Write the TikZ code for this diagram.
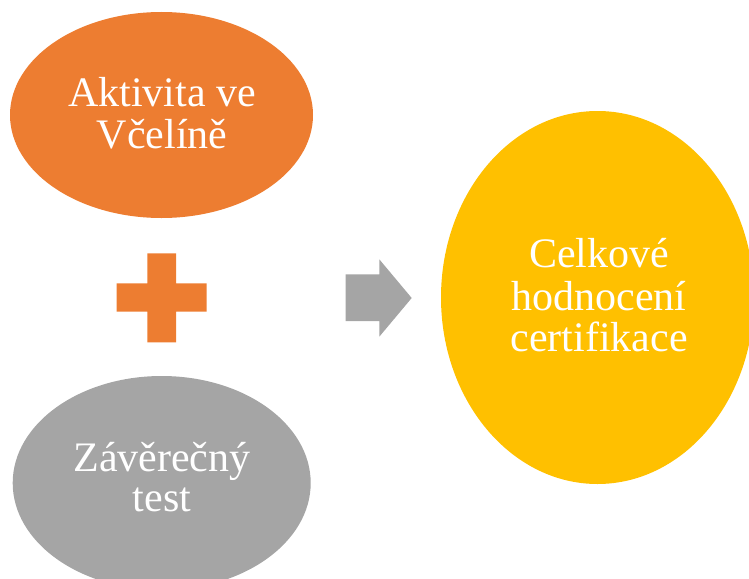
\documentclass[tikz,border=0pt]{standalone}
\usepackage{fontspec}
\setmainfont{Liberation Serif}
\usetikzlibrary{shapes.geometric}
\definecolor{corange}{HTML}{ED7D31}
\definecolor{cgray}{HTML}{A5A5A5}
\definecolor{cyellow}{HTML}{FFC000}
\tikzset{
  blob/.style={ellipse, inner sep=0pt, draw=none},
  label/.style={text=white, anchor=base, inner sep=0pt, font=\fontsize{42}{42}\selectfont}
}
\begin{document}
\begin{tikzpicture}[x=1pt,y=-1pt]
\useasboundingbox (0,0) rectangle (749,578);
% ellipses
\node[blob, fill=corange, minimum width=303pt, minimum height=206pt] (act) at (161.5,115) {};
\node[blob, fill=cgray, minimum width=298pt, minimum height=214pt] (test) at (161.7,483) {};
\node[blob, fill=cyellow, minimum width=313pt, minimum height=373pt] (cert) at (597.5,297.5) {};
% texts
\node[label] (t1) at (162,106) {Aktivita ve};
\node[label] (t2) at (162,148) {Včelíně};
\node[label] (t3) at (162,471.7) {Závěrečný};
\node[label] (t4) at (162,511.7) {test};
\node[label] (t5) at (599,267.3) {Celkové};
\node[label] (t6) at (599,310) {hodnocení};
\node[label] (t7) at (599,351.7) {certifikace};
% plus sign
\fill[corange] (147.3,253.3) -- (176,253.3) -- (176,283.3) -- (206.7,283.3) -- (206.7,311.7)
  -- (176,311.7) -- (176,342.3) -- (147.3,342.3) -- (147.3,311.7) -- (116.7,311.7)
  -- (116.7,283.3) -- (147.3,283.3) -- cycle;
% arrow
\fill[cgray] (345.7,274.3) -- (379.3,274.3) -- (379.3,259.3) -- (411.7,298) -- (379.3,336.7)
  -- (379.3,321) -- (345.7,321) -- cycle;
\end{tikzpicture}
\end{document}
